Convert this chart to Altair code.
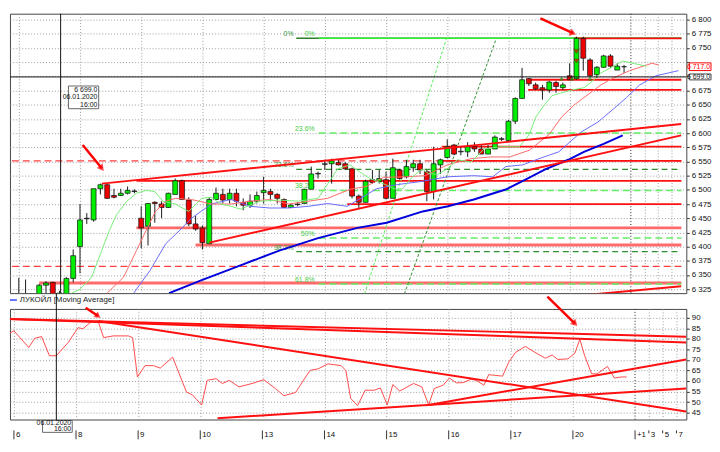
import altair as alt
import pandas as pd

W, H1, H2 = 685, 283, 112
FONT = "Liberation Sans"
X_MIN, X_MAX = -0.57, 97.43

# ---------------- axes / ticks ----------------
day_idx = [0, 9, 18, 27, 36, 45, 54, 63, 72, 81]
day_lab = ["6", "8", "9", "10", "13", "14", "15", "16", "17", "20"]
fut_idx = [90, 92, 94, 96]
fut_lab = ["+1", "3", "5", "7"]
price_ticks = [6.325, 6.35, 6.375, 6.4, 6.425, 6.45, 6.475, 6.5, 6.525, 6.55,
               6.575, 6.6, 6.625, 6.65, 6.675, 6.7, 6.725, 6.75, 6.775, 6.8]
hidden_ticks = [6.7, 6.725]          # covered by the price tags
rsi_ticks = [45, 50, 55, 60, 65, 70, 75, 80, 85, 90]

# ---------------- hourly candles ----------------
opens = [6.305, 6.310, 6.305, 6.315, 6.332, 6.337, 6.312, 6.312, 6.344, 6.400,
         6.449, 6.447, 6.502, 6.509, 6.490, 6.490, 6.494, 6.497, 6.450, 6.436,
         6.478, 6.475, 6.469, 6.492, 6.516, 6.482, 6.440, 6.433, 6.405, 6.483,
         6.492, 6.483, 6.494, 6.478, 6.473, 6.480, 6.495, 6.497, 6.492, 6.483,
         6.469, 6.474, 6.476, 6.501, 6.528, 6.545, 6.546, 6.548, 6.546, 6.537,
         6.489, 6.478, 6.518, 6.515, 6.518, 6.485, 6.535, 6.523, 6.539, 6.546,
         6.532, 6.497, 6.544, 6.557, 6.579, 6.567, 6.567, 6.576, 6.572, 6.563,
         6.572, 6.589, 6.587, 6.621, 6.661, 6.696, 6.685, 6.680, 6.676, 6.689,
         6.680, 6.701, 6.696, 6.767, 6.729, 6.703, 6.716, 6.736, 6.711, 6.717]
highs = [6.345, 6.342, 6.316, 6.334, 6.339, 6.338, 6.322, 6.346, 6.395, 6.475,
         6.459, 6.502, 6.511, 6.511, 6.502, 6.502, 6.506, 6.501, 6.471, 6.477,
         6.480, 6.480, 6.495, 6.520, 6.518, 6.487, 6.454, 6.437, 6.487, 6.504,
         6.502, 6.502, 6.502, 6.485, 6.492, 6.497, 6.523, 6.502, 6.494, 6.485,
         6.476, 6.478, 6.502, 6.541, 6.532, 6.553, 6.555, 6.553, 6.549, 6.539,
         6.492, 6.518, 6.535, 6.535, 6.532, 6.555, 6.537, 6.553, 6.553, 6.553,
         6.535, 6.576, 6.555, 6.589, 6.581, 6.576, 6.584, 6.584, 6.579, 6.579,
         6.596, 6.593, 6.623, 6.663, 6.715, 6.697, 6.689, 6.685, 6.692, 6.692,
         6.689, 6.723, 6.770, 6.770, 6.732, 6.718, 6.738, 6.739, 6.723, 6.720]
lows = [6.290, 6.295, 6.290, 6.310, 6.318, 6.305, 6.305, 6.310, 6.337, 6.353,
        6.440, 6.444, 6.492, 6.484, 6.485, 6.489, 6.492, 6.494, 6.397, 6.402,
        6.442, 6.450, 6.468, 6.492, 6.482, 6.436, 6.428, 6.395, 6.405, 6.482,
        6.476, 6.476, 6.471, 6.464, 6.468, 6.476, 6.476, 6.480, 6.476, 6.468,
        6.468, 6.471, 6.476, 6.501, 6.520, 6.535, 6.511, 6.543, 6.535, 6.485,
        6.468, 6.478, 6.511, 6.511, 6.483, 6.485, 6.518, 6.520, 6.532, 6.528,
        6.480, 6.483, 6.528, 6.555, 6.561, 6.561, 6.558, 6.567, 6.563, 6.563,
        6.572, 6.586, 6.584, 6.616, 6.661, 6.683, 6.676, 6.659, 6.671, 6.671,
        6.676, 6.694, 6.694, 6.710, 6.699, 6.697, 6.715, 6.715, 6.711, 6.706]
closes = [6.312, 6.305, 6.310, 6.332, 6.336, 6.312, 6.318, 6.344, 6.384, 6.447,
          6.450, 6.502, 6.509, 6.485, 6.487, 6.494, 6.499, 6.498, 6.433, 6.476,
          6.476, 6.469, 6.494, 6.516, 6.483, 6.440, 6.431, 6.407, 6.483, 6.494,
          6.482, 6.494, 6.480, 6.473, 6.480, 6.490, 6.499, 6.492, 6.485, 6.469,
          6.473, 6.475, 6.501, 6.528, 6.529, 6.546, 6.551, 6.544, 6.537, 6.489,
          6.478, 6.515, 6.513, 6.520, 6.485, 6.539, 6.520, 6.541, 6.546, 6.535,
          6.497, 6.546, 6.553, 6.576, 6.563, 6.568, 6.576, 6.572, 6.563, 6.572,
          6.593, 6.590, 6.621, 6.661, 6.694, 6.687, 6.678, 6.676, 6.690, 6.682,
          6.685, 6.694, 6.767, 6.732, 6.701, 6.716, 6.736, 6.718, 6.718, 6.717]

# ---------------- moving averages ----------------
ma_fast_i = [6.5, 9.0, 10.7, 12.2, 13.3, 14.4, 15.9, 17.3, 18.7, 20.0,
             21.2, 23.0, 25.0, 26.9, 28.3, 29.7, 31.2, 32.6, 35.4, 38.3,
             41.1, 44.0, 46.9, 48.7, 50.1, 51.6, 53.6, 55.4, 56.4, 57.9,
             59.3, 60.2, 61.6, 63.0, 64.5, 66.5, 68.4, 70.8, 73.6, 75.1,
             76.0, 77.3, 78.4, 79.8, 81.3, 83.1, 84.1, 85.6, 87.0, 88.8, 90.3, 92.3]
ma_fast_v = [6.310, 6.325, 6.346, 6.393, 6.428, 6.457, 6.480, 6.494, 6.499, 6.497,
             6.480, 6.475, 6.462, 6.485, 6.487, 6.475, 6.471, 6.466, 6.480, 6.482,
             6.480, 6.485, 6.537, 6.544, 6.532, 6.520, 6.511, 6.501, 6.502, 6.523,
             6.537, 6.529, 6.527, 6.537, 6.553, 6.549, 6.572, 6.576, 6.576, 6.598,
             6.628, 6.650, 6.666, 6.671, 6.676, 6.680, 6.689, 6.706, 6.715, 6.727, 6.723, 6.718]
ma_mid_i = [13.0, 15.4, 17.3, 18.7, 20.1, 21.6, 23.0, 25.4, 28.3, 31.2,
            34.0, 36.9, 39.7, 42.6, 45.4, 48.7, 51.1, 53.6, 56.9, 59.8,
            63.0, 66.5, 69.4, 72.2, 75.1, 78.0, 79.8, 81.7, 83.7, 85.6,
            87.4, 89.8, 93.1, 94.1]
ma_mid_v = [6.318, 6.346, 6.393, 6.428, 6.462, 6.480, 6.485, 6.483, 6.475, 6.475,
            6.480, 6.483, 6.475, 6.480, 6.485, 6.501, 6.506, 6.522, 6.523, 6.525,
            6.544, 6.555, 6.558, 6.558, 6.570, 6.598, 6.628, 6.650, 6.668, 6.685,
            6.697, 6.710, 6.723, 6.720]
ma_slow_i = [16.9, 19.3, 21.6, 23.6, 25.4, 28.3, 31.2, 34.0, 36.9, 39.7,
             42.6, 45.4, 48.3, 52.6, 55.5, 59.3, 63.0, 66.9, 69.7, 71.6,
             74.1, 76.5, 79.4, 82.7, 85.1, 87.4, 89.4, 91.3, 93.7, 97.0]
ma_slow_v = [6.318, 6.358, 6.405, 6.428, 6.450, 6.475, 6.483, 6.471, 6.468, 6.468,
             6.471, 6.476, 6.471, 6.502, 6.509, 6.515, 6.523, 6.525, 6.523, 6.541,
             6.544, 6.555, 6.567, 6.602, 6.619, 6.642, 6.663, 6.685, 6.701, 6.710]
ma_long_i = [22.1, 26.9, 32.6, 38.3, 44.0, 49.8, 54.1, 59.4, 63.1, 66.9,
             71.7, 74.5, 77.4, 80.8, 83.1, 86.0, 88.8]
ma_long_v = [6.318, 6.341, 6.367, 6.393, 6.415, 6.433, 6.442, 6.462, 6.471, 6.483,
             6.501, 6.518, 6.536, 6.553, 6.567, 6.581, 6.596]

# ---------------- horizontal levels ----------------
red_lv = [6.767, 6.694, 6.676, 6.576, 6.551, 6.516, 6.475]
red_from = [81.7, 74.7, 74.9, 62.2, 62.2, 17.3, 48.3]
pink_lv = [6.433, 6.403, 6.336]
pink_from = [17.3, 26.0, 3.0]
dash_red_lv = [6.551, 6.365]
dash_red_from = [-1.0, -1.0]
fib_light_lv = [6.600, 6.499, 6.415, 6.334]
fib_light_lab = ["23.6%", "38.2%", "50%", "61.8%"]
fib_dark_lv = [6.536, 6.391]
fib_dark_lab = ["23.6%", "38.2%"]
fib_zero = 6.767
fib_light_from, fib_dark_from = 44.1, 40.8

# ---------------- trend lines (price panel) ----------------
tl_x1 = [12.2, 28.0, 75.4]
tl_y1 = [6.511, 6.407, 6.306]
tl_x2 = [97.4, 97.4, 97.4]
tl_y2 = [6.616, 6.596, 6.330]
fan_x1 = [50.4, 56.2]
fan_y1 = [6.300, 6.300]
fan_x2 = [62.9, 70.1]
fan_y2 = [6.767, 6.763]

# ---------------- RSI ----------------
rsi_i = [-1.72, 0, 2.15, 3.0, 4.0, 5.15, 6.15, 7.87, 9.3, 10.0,
         11.2, 12.2, 13.0, 14.4, 16.6, 17.2, 17.9, 19.0, 20.2, 21.2,
         23.0, 25.0, 25.9, 27.2, 28.0, 29.3, 30.2, 31.2, 32.6, 34.5,
         36.2, 37.9, 39.1, 40.8, 42.9, 44.1, 45.5, 47.4, 48.1, 48.8,
         49.8, 50.9, 52.2, 53.1, 54.1, 54.9, 55.9, 57.9, 59.1, 60.1,
         60.9, 62.2, 63.1, 64.1, 65.1, 66.2, 67.0, 68.1, 68.8, 70.8,
         71.7, 72.7, 74.1, 75.5, 77.0, 78.0, 78.8, 80.3, 81.3, 82.0,
         82.7, 83.7, 84.5, 86.0, 87.0, 88.0, 88.8]
rsi_v = [80.6, 83.8, 75.9, 80.2, 81.1, 72.0, 72.0, 78.3, 85.3, 84.8,
         88.1, 88.4, 80.6, 81.4, 81.4, 80.6, 61.9, 67.3, 67.3, 66.1,
         71.3, 54.8, 53.3, 48.6, 60.3, 61.1, 58.8, 60.3, 57.2, 58.8,
         60.6, 56.4, 53.0, 54.5, 65.0, 65.8, 68.1, 67.3, 65.0, 51.7,
         48.3, 55.6, 55.6, 56.7, 48.6, 58.3, 55.2, 58.8, 57.2, 48.6,
         56.4, 58.0, 61.4, 59.1, 59.2, 60.8, 60.3, 58.0, 63.0, 62.3,
         68.9, 73.6, 76.4, 73.6, 70.8, 72.3, 70.2, 70.5, 73.3, 79.8,
         72.0, 63.4, 63.4, 66.9, 61.4, 61.9, 61.9]
rtl_x1 = [-1.72, -1.72, 12.2, 29.5, 60.1]
rtl_y1 = [89.5, 89.5, 88.5, 42.3, 48.6]
rtl_x2 = [97.4, 97.4, 97.4, 97.4, 97.4]
rtl_y2 = [81.0, 78.3, 45.5, 56.4, 70.2]

cross_i, cross_p = 6.15, 6.699
last_price = 6.717

# ================= scales / axes =================
XS = alt.Scale(domain=[X_MIN, X_MAX], nice=False, zero=False)
YS = alt.Scale(domain=[6.318, 6.8104], nice=False, zero=False)
RS = alt.Scale(domain=[41.7, 94.2], nice=False, zero=False)

hide_expr = " || ".join("abs(datum.value - %s) < 0.0005" % v for v in hidden_ticks)
price_label_expr = "(%s) ? '' : replace(format(datum.value, '.3f'), '.', ' ')" % hide_expr

xax = alt.Axis(values=day_idx + fut_idx[1:], grid=True, gridColor="#9c9c9c",
               gridDash=[1, 2], labels=False, ticks=False, domain=False, title=None)
yax = alt.Axis(orient="right", values=price_ticks, grid=True, gridColor="#9c9c9c",
               gridDash=[1, 2], tickSize=3, tickColor="#333", domain=False,
               labelExpr=price_label_expr,
               labelFont=FONT, labelFontSize=8, labelColor="#111", labelPadding=2,
               title=None)
rax = alt.Axis(orient="right", values=rsi_ticks, grid=True, gridColor="#9c9c9c",
               gridDash=[1, 2], tickSize=3, tickColor="#333", domain=False,
               labelFont=FONT, labelFontSize=8, labelColor="#111", labelPadding=2,
               title=None)


def X(f):
    return alt.X(f, type="quantitative", scale=XS, axis=xax)


def Y(f):
    return alt.Y(f, type="quantitative", scale=YS, axis=yax)


def R(f):
    return alt.Y(f, type="quantitative", scale=RS, axis=rax)


def C(d):
    return alt.Chart(pd.DataFrame(d))


# ================= price panel =================
cd = pd.DataFrame({"i": list(range(len(opens))), "o": opens, "h": highs, "l": lows, "c": closes})
cd["dir"] = ["flat" if abs(c - o) < 0.0015 else ("up" if c > o else "down")
             for o, c in zip(opens, closes)]

L = []
L.append(C({"i": [fut_idx[0]]}).mark_rule(color="#222", strokeDash=[1, 2], strokeWidth=1)
         .encode(x=X("i")))
# levels
L.append(C({"p": dash_red_lv, "a": dash_red_from, "b": [X_MAX] * len(dash_red_lv)})
         .mark_rule(color="#ff4040", strokeWidth=1.3, strokeDash=[7, 4], clip=True)
         .encode(x=X("a"), x2=alt.X2("b"), y=Y("p")))
L.append(C({"p": pink_lv, "a": pink_from, "b": [X_MAX] * len(pink_lv)})
         .mark_rule(color="#ff6b6b", strokeWidth=3, clip=True)
         .encode(x=X("a"), x2=alt.X2("b"), y=Y("p")))
L.append(C({"p": [fib_zero], "a": [fib_dark_from], "b": [X_MAX]})
         .mark_rule(color="#2f7f2f", strokeWidth=1.5, clip=True)
         .encode(x=X("a"), x2=alt.X2("b"), y=Y("p")))
L.append(C({"p": [fib_zero], "a": [fib_light_from], "b": [X_MAX]})
         .mark_rule(color="#33ee33", strokeWidth=1.5, clip=True)
         .encode(x=X("a"), x2=alt.X2("b"), y=Y("p")))
L.append(C({"p": fib_dark_lv, "a": [fib_dark_from] * len(fib_dark_lv), "b": [X_MAX] * len(fib_dark_lv)})
         .mark_rule(color="#2f8f2f", strokeWidth=1.2, strokeDash=[6, 4], clip=True)
         .encode(x=X("a"), x2=alt.X2("b"), y=Y("p")))
L.append(C({"p": fib_light_lv, "a": [fib_light_from] * len(fib_light_lv), "b": [X_MAX] * len(fib_light_lv)})
         .mark_rule(color="#66ee66", strokeWidth=1.5, strokeDash=[7, 4], clip=True)
         .encode(x=X("a"), x2=alt.X2("b"), y=Y("p")))
L.append(C({"p": red_lv, "a": red_from, "b": [X_MAX] * len(red_lv)})
         .mark_rule(color="#ff1010", strokeWidth=1.8, clip=True)
         .encode(x=X("a"), x2=alt.X2("b"), y=Y("p")))
# fib labels
L.append(C({"i": [fib_light_from - 0.6] * (len(fib_light_lv) + 1),
            "p": fib_light_lv + [fib_zero], "t": fib_light_lab + ["0%"]})
         .mark_text(align="right", baseline="bottom", dy=-1, font=FONT, fontSize=7, color="#44cc44")
         .encode(x=X("i"), y=Y("p"), text="t:N"))
L.append(C({"i": [fib_dark_from - 0.4] * (len(fib_dark_lv) + 1),
            "p": fib_dark_lv + [fib_zero], "t": fib_dark_lab + ["0%"]})
         .mark_text(align="right", baseline="bottom", dy=-1, font=FONT, fontSize=7, color="#3a9a3a")
         .encode(x=X("i"), y=Y("p"), text="t:N"))
# fan lines
L.append(C({"a": [fan_x1[0]], "p": [fan_y1[0]], "b": [fan_x2[0]], "q": [fan_y2[0]]})
         .mark_rule(color="#55ee55", strokeWidth=1, strokeDash=[3, 2], clip=True)
         .encode(x=X("a"), y=Y("p"), x2=alt.X2("b"), y2=alt.Y2("q")))
L.append(C({"a": [fan_x1[1]], "p": [fan_y1[1]], "b": [fan_x2[1]], "q": [fan_y2[1]]})
         .mark_rule(color="#2f8f2f", strokeWidth=1, strokeDash=[3, 2], clip=True)
         .encode(x=X("a"), y=Y("p"), x2=alt.X2("b"), y2=alt.Y2("q")))
# candles
L.append(alt.Chart(cd).mark_rule(color="#1a1a1a", strokeWidth=1, clip=True)
         .encode(x=X("i"), y=Y("l"), y2=alt.Y2("h")))
L.append(alt.Chart(cd).mark_bar(size=5, stroke="#111", strokeWidth=0.7, clip=True)
         .encode(x=X("i"), y=Y("o"), y2=alt.Y2("c"),
                 color=alt.Color("dir:N", legend=None,
                                 scale=alt.Scale(domain=["up", "down", "flat"],
                                                 range=["#00ee00", "#ee0000", "#444444"]))))
# moving averages
for mi, mv, col, sw in [(ma_long_i, ma_long_v, "#0000dd", 2),
                        (ma_slow_i, ma_slow_v, "#6a6aff", 1),
                        (ma_mid_i, ma_mid_v, "#ff6a6a", 1),
                        (ma_fast_i, ma_fast_v, "#77ee77", 1)]:
    L.append(C({"i": mi, "v": mv}).mark_line(color=col, strokeWidth=sw, clip=True)
             .encode(x=X("i"), y=Y("v")))
# trend lines
L.append(C({"a": tl_x1, "p": tl_y1, "b": tl_x2, "q": tl_y2})
         .mark_rule(color="#ff1010", strokeWidth=2, clip=True)
         .encode(x=X("a"), y=Y("p"), x2=alt.X2("b"), y2=alt.Y2("q")))
# trade markers
L.append(C({"i": [82, 82], "p": [6.744, 6.727]})
         .mark_point(shape="triangle-down", filled=True, size=22, color="#ee0000", stroke="#600", strokeWidth=0.5)
         .encode(x=X("i"), y=Y("p")))
L.append(C({"i": [79.8, 81.3, 84.0], "p": [6.696, 6.696, 6.696]})
         .mark_point(shape="triangle-up", filled=True, size=14, color="#22bb22", stroke="#060", strokeWidth=0.5)
         .encode(x=X("i"), y=Y("p")))
# crosshair
L.append(C({"i": [cross_i]}).mark_rule(color="#111", strokeWidth=1).encode(x=X("i")))
L.append(C({"p": [cross_p]}).mark_rule(color="#111", strokeWidth=1).encode(y=Y("p")))
# crosshair info box
L.append(C({"a": [7.3], "b": [11.75], "p": [6.683], "q": [6.643]})
         .mark_rect(fill="white", stroke="#666", strokeWidth=1)
         .encode(x=X("a"), x2=alt.X2("b"), y=Y("p"), y2=alt.Y2("q")))
L.append(C({"i": [11.55] * 3, "p": [6.676, 6.663, 6.650], "t": ["6 699.0", "06.01.2020", "16:00"]})
         .mark_text(align="right", baseline="middle", font=FONT, fontSize=7, color="#111")
         .encode(x=X("i"), y=Y("p"), text="t:N"))
# arrows
L.append(C({"a": [9.4], "p": [6.579], "b": [12.2], "q": [6.538]})
         .mark_rule(color="#ff0000", strokeWidth=2.5)
         .encode(x=X("a"), y=Y("p"), x2=alt.X2("b"), y2=alt.Y2("q")))
L.append(C({"i": [12.2], "p": [6.538]})
         .mark_point(shape="triangle-up", filled=True, size=60, color="#ff0000", angle=143)
         .encode(x=X("i"), y=Y("p")))
L.append(C({"a": [76.7], "p": [6.802], "b": [81.5], "q": [6.776]})
         .mark_rule(color="#ff0000", strokeWidth=2.5)
         .encode(x=X("a"), y=Y("p"), x2=alt.X2("b"), y2=alt.Y2("q")))
L.append(C({"i": [81.5], "p": [6.776]})
         .mark_point(shape="triangle-up", filled=True, size=60, color="#ff0000", angle=114)
         .encode(x=X("i"), y=Y("p")))
# price tags on the axis
L.append(C({"p": [last_price + 0.0068], "q": [last_price - 0.0068]})
         .mark_rect(fill="white", stroke="#ff0000", strokeWidth=1)
         .encode(x=alt.value(W + 3), x2=alt.value(W + 25), y=Y("p"), y2=alt.Y2("q")))
L.append(C({"p": [last_price], "t": ["6 717.0"]})
         .mark_text(align="right", baseline="middle", font=FONT, fontSize=7, color="#ff0000")
         .encode(x=alt.value(W + 24), y=Y("p"), text="t:N"))
L.append(C({"p": [cross_p + 0.0052], "q": [cross_p - 0.0052]})
         .mark_rect(fill="white", stroke="#444", strokeWidth=1)
         .encode(x=alt.value(W + 3), x2=alt.value(W + 25), y=Y("p"), y2=alt.Y2("q")))
L.append(C({"p": [cross_p - 0.0005], "t": ["6 699.0"]})
         .mark_text(align="right", baseline="middle", font=FONT, fontSize=7, color="#111")
         .encode(x=alt.value(W + 24), y=Y("p"), text="t:N"))

main = alt.layer(*L).properties(width=W, height=H1)

# ================= RSI panel =================
R_L = []
R_L.append(C({"i": [fut_idx[0]]}).mark_rule(color="#222", strokeDash=[1, 2], strokeWidth=1)
           .encode(x=X("i")))
R_L.append(C({"i": rsi_i, "v": rsi_v}).mark_line(color="#ff4a4a", strokeWidth=1, clip=True)
           .encode(x=X("i"), y=R("v")))
R_L.append(C({"a": rtl_x1, "p": rtl_y1, "b": rtl_x2, "q": rtl_y2})
           .mark_rule(color="#ff1010", strokeWidth=2, clip=True)
           .encode(x=X("a"), y=R("p"), x2=alt.X2("b"), y2=alt.Y2("q")))
# crosshair through the panel
R_L.append(C({"i": [cross_i]}).mark_rule(color="#111", strokeWidth=1)
           .encode(x=X("i"), y=alt.value(-16), y2=alt.value(H2 + 1)))
# legend strip
R_L.append(C({"t": ["ЛУКОЙЛ [Moving Average]"]})
           .mark_rule(color="#3344ff", strokeWidth=1.5)
           .encode(x=alt.value(0), x2=alt.value(7), y=alt.value(-9)))
R_L.append(C({"t": ["ЛУКОЙЛ [Moving Average]"]})
           .mark_text(align="left", baseline="middle", font=FONT, fontSize=8, color="#222")
           .encode(x=alt.value(10), y=alt.value(-9), text="t:N"))
# time axis
R_L.append(C({"i": day_idx + fut_idx[:1]}).mark_rule(color="#333", strokeWidth=1)
           .encode(x=X("i"), y=alt.value(H2 + 11), y2=alt.value(H2 + 20)))
R_L.append(C({"i": fut_idx[1:]}).mark_rule(color="#333", strokeWidth=1)
           .encode(x=X("i"), y=alt.value(H2 + 11), y2=alt.value(H2 + 14)))
R_L.append(C({"i": day_idx + fut_idx, "t": day_lab + fut_lab})
           .mark_text(align="left", baseline="middle", dx=2, font=FONT, fontSize=8, color="#111")
           .encode(x=X("i"), y=alt.value(H2 + 16), text="t:N"))
# crosshair date box
R_L.append(C({"a": [4.15], "b": [8.45]})
           .mark_rect(fill="white", stroke="#666", strokeWidth=1)
           .encode(x=X("a"), x2=alt.X2("b"), y=alt.value(H2 + 1), y2=alt.value(H2 + 13)))
R_L.append(C({"i": [8.3], "t": ["06.01.2020"]})
           .mark_text(align="right", baseline="middle", font=FONT, fontSize=7, color="#111")
           .encode(x=X("i"), y=alt.value(H2 + 4), text="t:N"))
R_L.append(C({"i": [8.3], "t": ["16:00"]})
           .mark_text(align="right", baseline="middle", font=FONT, fontSize=7, color="#111")
           .encode(x=X("i"), y=alt.value(H2 + 10), text="t:N"))
# arrows
R_L.append(C({"a": [10.4], "p": [94.8], "b": [12.2], "q": [90.8]})
           .mark_rule(color="#ff0000", strokeWidth=2.5)
           .encode(x=X("a"), y=R("p"), x2=alt.X2("b"), y2=alt.Y2("q")))
R_L.append(C({"i": [12.2], "p": [90.8]})
           .mark_point(shape="triangle-up", filled=True, size=50, color="#ff0000", angle=127)
           .encode(x=X("i"), y=R("p")))
R_L.append(C({"a": [77.3], "p": [100.0], "b": [81.3], "q": [87.2]})
           .mark_rule(color="#ff0000", strokeWidth=2.5)
           .encode(x=X("a"), y=R("p"), x2=alt.X2("b"), y2=alt.Y2("q")))
R_L.append(C({"i": [81.3], "p": [87.2]})
           .mark_point(shape="triangle-up", filled=True, size=60, color="#ff0000", angle=135)
           .encode(x=X("i"), y=R("p")))

rsi = alt.layer(*R_L).properties(width=W, height=H2)

chart = (alt.vconcat(main, rsi, spacing=16, bounds="flush")
         .properties(padding={"left": 0, "top": 2, "right": 0, "bottom": 0}, background="white")
         .configure_view(stroke="#444", strokeWidth=1)
         .configure_axis(labelFont=FONT))

chart.save("out.html", embed_options={"renderer": "svg", "actions": False})
